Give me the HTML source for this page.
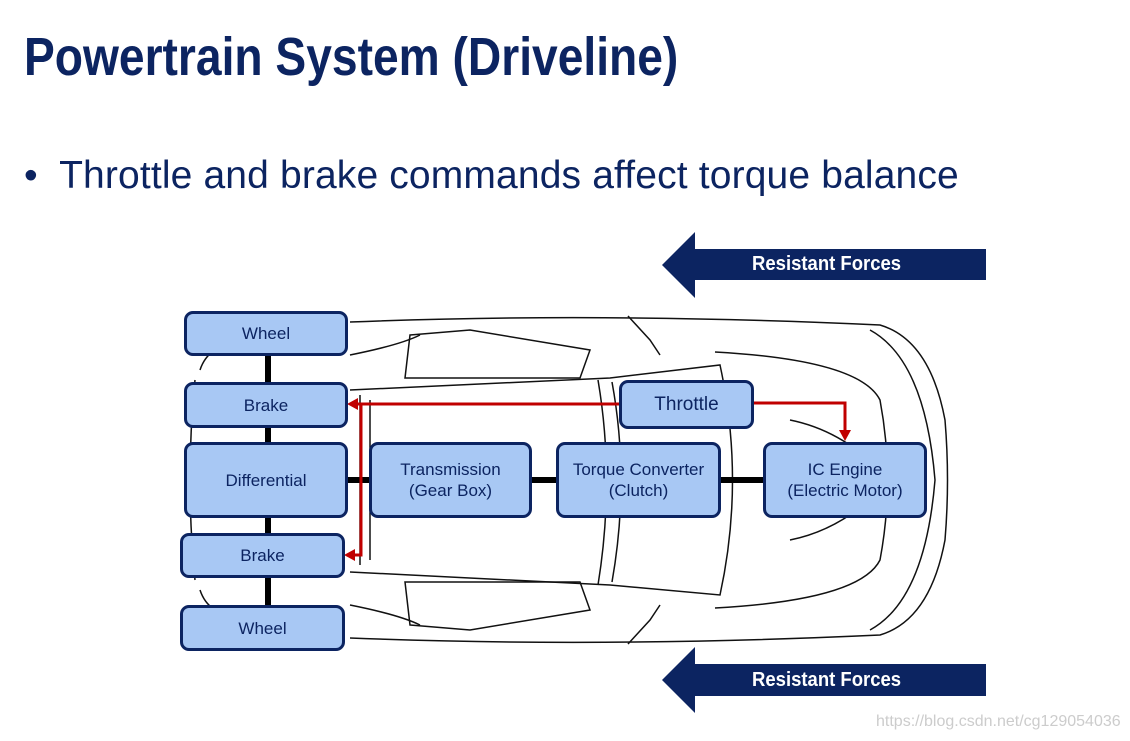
<!DOCTYPE html>
<html><head><style>
body{margin:0;background:#fff;width:1130px;height:741px;overflow:hidden;position:relative;font-family:"Liberation Sans",sans-serif}
.t{position:absolute;left:24px;top:26px;font-weight:bold;font-size:54px;color:#0c2461;white-space:nowrap;transform:scaleX(0.855);transform-origin:left}
.b{position:absolute;left:24px;top:154px;font-size:39px;letter-spacing:0.15px;color:#0c2461;white-space:nowrap}
.bx{position:absolute;background:#a8c8f4;border:3px solid #0c2461;border-radius:9px;box-sizing:border-box;display:flex;align-items:center;justify-content:center;text-align:center;color:#0c2461;font-size:17px;line-height:21px}
.af{position:absolute;color:#fff;font-weight:bold;font-size:20px;white-space:nowrap;transform:scaleX(0.925);transform-origin:left}
</style></head><body>
<div class="t">Powertrain System (Driveline)</div>
<div class="b">•&nbsp; Throttle and brake commands affect torque balance</div>
<svg width="1130" height="741" style="position:absolute;left:0;top:0">
<g fill="none" stroke="#111" stroke-width="1.5">
<path d="M350 322 Q600 312 880 325 Q930 340 945 420 Q950 480 945 540 Q930 620 880 635 Q600 648 350 638"/>
<path d="M870 330 Q925 360 935 480 Q925 600 870 630"/>
<path d="M715 352 Q860 360 880 400 Q895 480 880 560 Q860 600 715 608"/>
<path d="M350 390 L610 378 L720 365 Q745 480 720 595 L610 585 L350 572"/>
<path d="M360 395 L360 565 M370 400 L370 560"/>
<path d="M598 380 Q615 480 598 585 M612 382 Q630 480 612 582"/>
<path d="M410 335 L470 330 L590 350 L580 378 L405 378 Z"/>
<path d="M410 625 L470 630 L590 610 L580 582 L405 582 Z"/>
<path d="M628 316 L650 340 L660 355 M628 644 L650 620 L660 605"/>
<path d="M200 370 Q210 340 250 345 M200 590 Q210 620 250 615"/>
<path d="M195 380 Q185 480 195 580"/>
<path d="M350 355 Q400 345 420 335 M350 605 Q400 615 420 625"/>
<path d="M790 420 Q840 430 880 470 M790 540 Q840 530 880 490"/>
</g>
<g stroke="#000" stroke-width="6">
<line x1="268" y1="355" x2="268" y2="605"/>
<line x1="347" y1="480" x2="765" y2="480"/>
</g>
<g stroke="#c00000" stroke-width="3" fill="none">
<polyline points="620,404 356,404"/>
<polyline points="361,404 361,555 352,555"/>
<polyline points="753,403 845,403 845,432"/>
</g>
<g fill="#c00000">
<polygon points="347,404 358,398 358,410"/>
<polygon points="344,555 355,549 355,561"/>
<polygon points="845,441 839,430 851,430"/>
</g>
<g fill="#0c2461">
<polygon points="662,265 695,232 695,249 986,249 986,280 695,280 695,298"/>
<polygon points="662,680 695,647 695,664 986,664 986,696 695,696 695,713"/>
</g>
</svg>
<div class="af" style="left:752px;top:253px">Resistant Forces</div>
<div class="af" style="left:752px;top:669px">Resistant Forces</div>
<div class="bx" style="left:184px;top:311px;width:164px;height:45px">Wheel</div>
<div class="bx" style="left:184px;top:382px;width:164px;height:46px">Brake</div>
<div class="bx" style="left:184px;top:442px;width:164px;height:76px">Differential</div>
<div class="bx" style="left:180px;top:533px;width:165px;height:45px">Brake</div>
<div class="bx" style="left:180px;top:605px;width:165px;height:46px">Wheel</div>
<div class="bx" style="left:369px;top:442px;width:163px;height:76px">Transmission<br>(Gear Box)</div>
<div class="bx" style="left:556px;top:442px;width:165px;height:76px">Torque Converter<br>(Clutch)</div>
<div class="bx" style="left:763px;top:442px;width:164px;height:76px">IC Engine<br>(Electric Motor)</div>
<div class="bx" style="left:619px;top:380px;width:135px;height:49px;font-size:19px">Throttle</div>
<div style="position:absolute;left:876px;top:713px;font-size:16px;color:#ccc">https://blog.csdn.net/cg129054036</div>
</body></html>
